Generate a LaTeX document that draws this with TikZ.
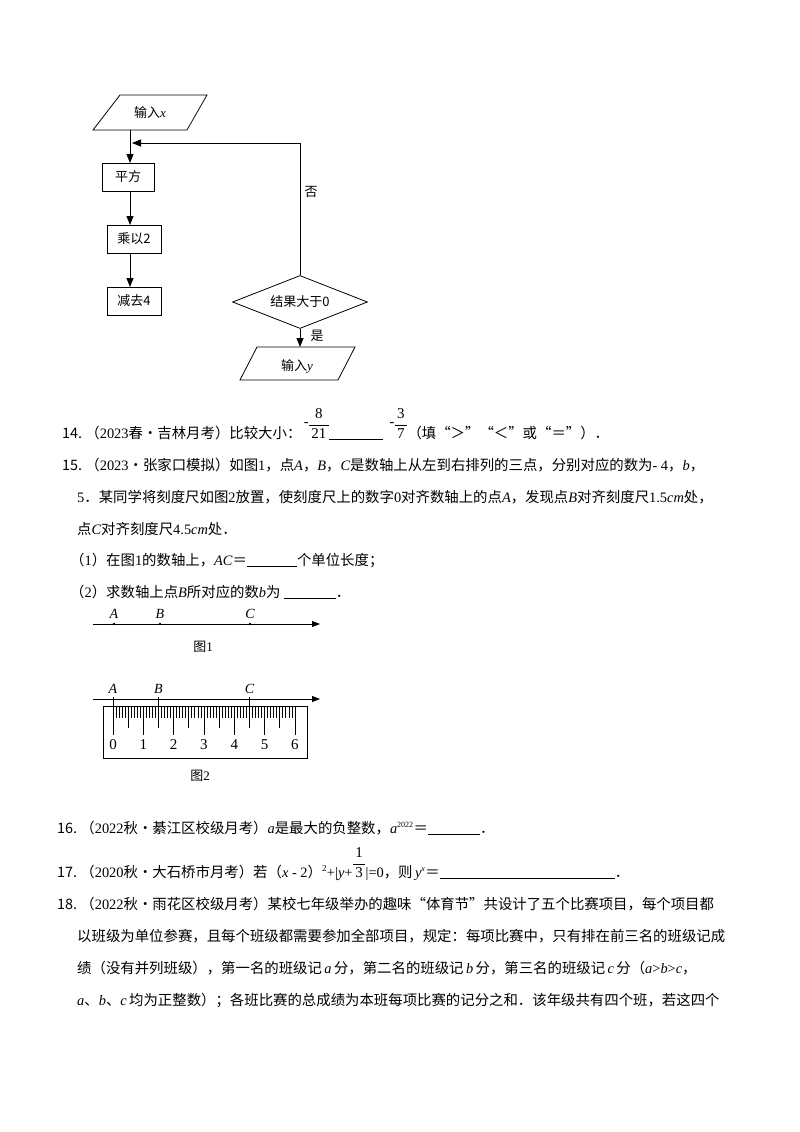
\documentclass[tikz,border=0pt]{standalone}
\usepackage{fontspec}
\setmainfont{Noto Sans CJK SC}
\newfontfamily\lat{Liberation Serif}
\usetikzlibrary{arrows.meta,shapes.geometric}
\newcommand{\vv}[1]{{\lat\itshape #1}}
\newcommand{\fb}[2]{\begin{tabular}[b]{@{\,}c@{\,}}{\lat\fontsize{15}{15}\selectfont #1}\\[1pt]\hline\rule{0pt}{13pt}{\lat\fontsize{15}{15}\selectfont #2}\end{tabular}}
\newcommand{\blank}[1]{\rule[-2pt]{#1pt}{0.8pt}}
\begin{document}
\begin{tikzpicture}[x=1pt,y=-1pt,
  txt/.style={anchor=base west,inner sep=0pt,font=\fontsize{14.4}{16}\selectfont},
  box/.style={draw,thick,minimum width=54pt,minimum height=28pt,font=\fontsize{13}{14}\selectfont},
  fl/.style={font=\fontsize{13}{14}\selectfont},
  arr/.style={thick,-{Triangle[length=9pt,width=7pt]}},
  ax/.style={thick,-{Triangle[length=8pt,width=6pt]}},
  lab/.style={font=\lat\itshape\fontsize{14}{14}\selectfont,inner sep=0pt}]
\useasboundingbox (0,0) rectangle (800,1132);
% flowchart
\draw[thick] (120,95) -- (207,95) -- (187,130) -- (93,130) -- cycle;
\node[fl] (in) at (150,113) {输入\vv{x}};
\coordinate (inb) at (130,130);
\node[box,minimum width=52pt] (s1) at (128,177) {平方};
\node[box] (s2) at (134,239) {乘以2};
\node[box] (s3) at (134,301) {减去4};
\draw[arr] (inb) -- (130,163);
\draw[arr] (130,191) -- (130,225);
\draw[arr] (130,253) -- (130,287);
\node[diamond,draw,thick,aspect=2.55,minimum width=135pt,minimum height=53pt,inner sep=0pt,fl] (d) at (300,302) {结果大于0};
\coordinate (tp) at (300,143);
\draw[arr] (d.north) -- (tp) -- (132,143);
\node[fl] at (311,192) {否};
\draw[arr] (d.south) -- (300,347);
\node[fl] at (317,336) {是};
\draw[thick] (257,347) -- (355,347) -- (338,380) -- (240,380) -- cycle;
\node[fl] (out) at (297,366) {输入\vv{y}};
% 14
\node[txt] (a14) at (62,438) {14.\ （{\lat 2023}春•吉林月考）比较大小：};
\node[txt] (m1) at ([xshift=2pt]a14.base east) {\raisebox{12pt}{{\lat -}}};
\node[txt] (f1) at (m1.base east) {\fb{8}{21}};
\node[txt] (b1) at (f1.base east) {\blank{54}};
\node[txt] (m2) at ([xshift=6pt]b1.base east) {\raisebox{12pt}{{\lat -}}};
\node[txt] (f2) at (m2.base east) {\fb{3}{7}};
\node[txt] (e14) at (f2.base east) {（填“＞”“＜”或“＝”）．};
% 15
\node[txt] (a15) at (62,470) {15.\ （{\lat 2023}•张家口模拟）如图{\lat 1}，点\vv{A}，\vv{B}，\vv{C}是数轴上从左到右排列的三点，分别对应的数为{\lat - 4}，\vv{b}，};
\node[txt] (b15) at (77,502) {{\lat 5}．某同学将刻度尺如图{\lat 2}放置，使刻度尺上的数字{\lat 0}对齐数轴上的点\vv{A}，发现点\vv{B}对齐刻度尺{\lat 1.5}\vv{cm}处，};
\node[txt] (c15) at (77,534) {点\vv{C}对齐刻度尺{\lat 4.5}\vv{cm}处．};
\node[txt] (d15) at (70,565) {（{\lat 1}）在图{\lat 1}的数轴上，\vv{AC}＝\blank{50}个单位长度；};
\node[txt] (e15) at (70,597) {（{\lat 2}）求数轴上点\vv{B}所对应的数\vv{b}为\ \blank{52}．};
% figure 1
\draw[ax] (93,624) -- (320,624);
\foreach \n/\x in {A/114,B/160,C/250}{
  \fill (\x,624) circle (1.3pt);
  \node[lab] (p1\n) at (\x,614) {\n};}
\node[fl] (g1) at (203,647) {图{\lat 1}};
% figure 2
\draw[thick] (103,706) rectangle (307,758);
\foreach \i in {0,...,60}{
  \pgfmathsetmacro{\xx}{113+3.033*\i}
  \pgfmathtruncatemacro{\r}{mod(\i,10)}
  \pgfmathtruncatemacro{\h}{mod(\i,5)}
  \ifnum\r=0 \draw[thick] (\xx,706) -- (\xx,735);
  \else\ifnum\h=0 \draw[thick] (\xx,706) -- (\xx,728);
  \else \draw[thick] (\xx,706) -- (\xx,718);\fi\fi}
\foreach \k in {0,...,6}{\node[font=\lat\fontsize{15}{15}\selectfont] at (113+30.33*\k,745) {\k};}
\draw[ax] (93,699) -- (320,699);
\foreach \n/\x in {A/113,B/158.5,C/249.5}{
  \draw[thick] (\x,697) -- (\x,712);
  \node[lab] (p2\n) at (\x,689) {\n};}
\node[fl] (g2) at (200,776) {图{\lat 2}};
% 16
\node[txt] (a16) at (57,833) {16.\ （{\lat 2022}秋•綦江区校级月考）\vv{a}是最大的负整数，\vv{a}$^{\mbox{\lat\fontsize{8}{9}\selectfont 2022}}$＝\blank{52}．};
% 17
\node[txt] (a17) at (57,877) {17.\ （{\lat 2020}秋•大石桥市月考）若（\vv{x}{\lat\ - 2}）$^{\mbox{\lat\fontsize{9}{9}\selectfont 2}}${\lat +|}\vv{y}{\lat +}};
\node[txt] (f17) at (a17.base east) {\fb{1}{3}};
\node[txt] (b17) at (f17.base east) {{\lat |=0}，则\,\vv{y}$^{\mbox{\lat\itshape\fontsize{8}{9}\selectfont x}}$＝\blank{175}．};
% 18
\node[txt] (a18) at (57,909) {18.\ （{\lat 2022}秋•雨花区校级月考）某校七年级举办的趣味“体育节”共设计了五个比赛项目，每个项目都};
\node[txt] (b18) at (77,941) {以班级为单位参赛，且每个班级都需要参加全部项目，规定：每项比赛中，只有排在前三名的班级记成};
\node[txt] (c18) at (77,973) {绩（没有并列班级），第一名的班级记\,\vv{a}\,分，第二名的班级记\,\vv{b}\,分，第三名的班级记\,\vv{c}\,分（\vv{a}{\lat >}\vv{b}{\lat >}\vv{c}，};
\node[txt] (d18) at (77,1005) {\vv{a}、\vv{b}、\vv{c}\,均为正整数）；各班比赛的总成绩为本班每项比赛的记分之和．该年级共有四个班，若这四个};
\end{tikzpicture}
\end{document}
